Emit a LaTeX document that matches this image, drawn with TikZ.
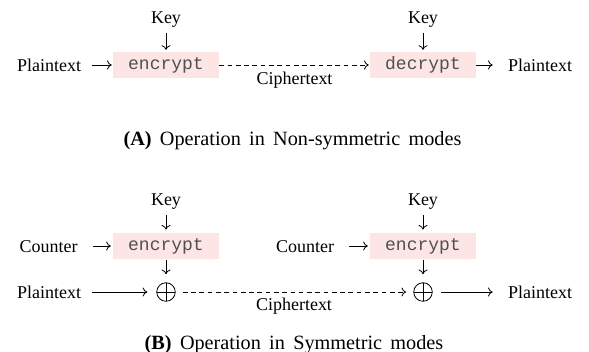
\documentclass[tikz,border=0pt]{standalone}
\usepackage{fontspec}
\setmainfont{Liberation Serif}
\setmonofont{Liberation Mono}
\usetikzlibrary{arrows.meta}
\definecolor{boxpink}{RGB}{253,229,229}
\definecolor{optext}{RGB}{80,80,80}
\tikzset{
  lbl/.style={font=\fontsize{10}{12}\selectfont, inner sep=0pt, anchor=base},
  captxt/.style={font=\fontsize{11.25}{13}\selectfont, inner sep=0pt, anchor=base},
  opbox/.style={fill=boxpink, minimum width=58.9pt, minimum height=14.4pt, inner sep=0pt,
    font=\ttfamily\fontsize{10}{12}\selectfont, text=optext},
  xo/.style={circle, draw, line width=0.45pt, minimum size=10.3pt, inner sep=0pt,
    path picture={\draw[line width=0.45pt] (path picture bounding box.north) -- (path picture bounding box.south)
      (path picture bounding box.west) -- (path picture bounding box.east);}},
  arr/.style={-{Computer Modern Rightarrow[length=2.6pt,width=5pt]}, line width=0.45pt},
  dsh/.style={dash pattern=on 2.6pt off 2pt},
}
\begin{document}
\begin{tikzpicture}[x=0.5556pt,y=-0.5556pt]
\useasboundingbox (0,0) rectangle (589,351);
% (A)
\node[lbl] (pt1) at (49,71) {Plaintext};
\node[lbl] (k1) at (166,23) {Key};
\node[opbox] (e1) at (166,65) {encrypt};
\node[lbl] (k2) at (423,23) {Key};
\node[opbox] (d1) at (423,65) {decrypt};
\node[lbl] (pt2) at (540,71) {Plaintext};
\node[lbl] (ct1) at (294.5,84) {Ciphertext};
\draw[arr, shorten <=6pt, shorten >=0.5pt] (pt1.east |- e1) -- (e1.west);
\draw[arr, shorten <=3.3pt, shorten >=1pt] (k1) -- (e1);
\draw[arr, shorten <=3.3pt, shorten >=1pt] (k2) -- (d1);
\draw[arr, dsh, shorten >=0.5pt] (e1.east) -- (d1.west);
\draw[arr, shorten >=8.3pt] (d1.east) -- (pt2.west |- d1);
\node[captxt] (capA) at (292.5,145) {\spaceskip=4.6pt\relax\textbf{(A)} Operation in Non-symmetric modes};
% (B)
\node[lbl] (k3) at (166,205) {Key};
\node[lbl] (co1) at (48.5,252) {Counter};
\node[opbox] (e2) at (166,246) {encrypt};
\node[xo] (x1) at (166,292) {};
\node[lbl] (pt3) at (49,298) {Plaintext};
\node[lbl] (k4) at (423,205) {Key};
\node[lbl] (co2) at (305,252) {Counter};
\node[opbox] (e3) at (423,246) {encrypt};
\node[xo] (x2) at (423,292) {};
\node[lbl] (pt4) at (540,298) {Plaintext};
\node[lbl] (ct2) at (294,310) {Ciphertext};
\draw[arr, shorten <=3.3pt, shorten >=1.7pt] (k3) -- (e2);
\draw[arr, shorten <=3.3pt, shorten >=1.7pt] (k4) -- (e3);
\draw[arr, shorten <=8.3pt, shorten >=1pt] (co1.east |- e2) -- (e2.west);
\draw[arr, shorten <=8.3pt, shorten >=1pt] (co2.east |- e3) -- (e3.west);
\draw[arr, shorten <=0.5pt, shorten >=4.5pt] (e2) -- (x1);
\draw[arr, shorten <=0.5pt, shorten >=4.5pt] (e3) -- (x2);
\draw[arr, shorten <=6pt, shorten >=5pt] (pt3.east |- x1) -- (x1.west);
\draw[arr, dsh, shorten <=4pt, shorten >=4pt] (x1) -- (x2);
\draw[arr, shorten <=4.5pt, shorten >=8.3pt] (x2.east) -- (pt4.west |- x2);
\node[captxt] (capB) at (294,349) {\spaceskip=4.6pt\relax\textbf{(B)} Operation in Symmetric modes};
\end{tikzpicture}
\end{document}
